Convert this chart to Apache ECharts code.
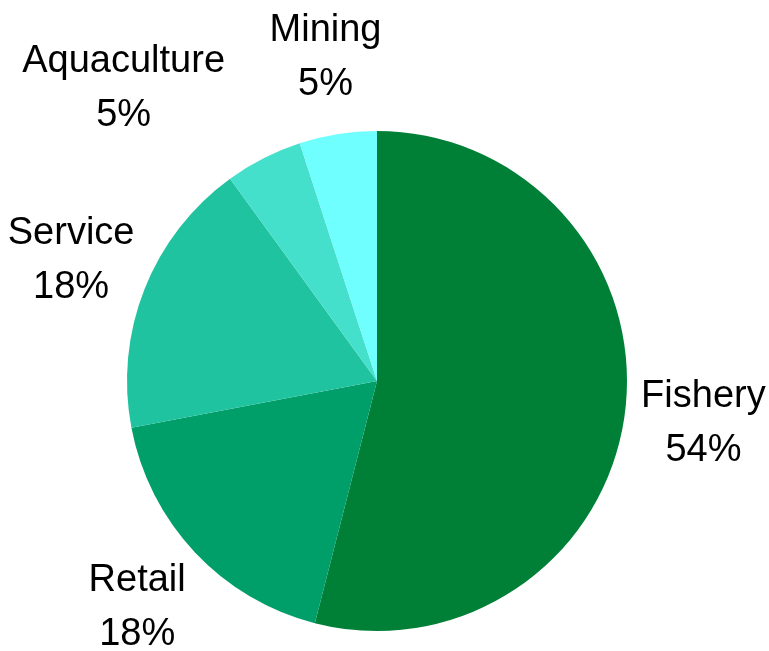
<!DOCTYPE html>
<html>
<head>
<meta charset="utf-8">
<script src="https://cdn.jsdelivr.net/npm/echarts@6/dist/echarts.min.js"></script>
<style>
  html, body { margin: 0; padding: 0; background: #fff; }
  #chart { width: 769px; height: 651px; }
</style>
</head>
<body>
<div id="chart"></div>
<script>
const categories = ['Fishery', 'Retail', 'Service', 'Aquaculture', 'Mining'];
const values = [54, 18, 18, 5, 5];
const colors = ['#008037', '#009e69', '#20c39f', '#45e0cc', '#6ffffe'];

// pie geometry
const cx = 377, cy = 381, radius = 250;
const labelR = 329;

const total = values.reduce((a, b) => a + b, 0);

function labelPos(idx) {
  let before = 0;
  for (let i = 0; i < idx; i++) before += values[i];
  const mid = (before + values[idx] / 2) / total * Math.PI * 2;
  let x = cx + labelR * Math.sin(mid);
  const y = cy - labelR * Math.cos(mid) + 1;
  // the small Aquaculture label is pushed left so it clears Mining
  if (categories[idx] === 'Aquaculture') x -= 104;
  return { x: x, y: y };
}

const chart = echarts.init(document.getElementById('chart'));
chart.setOption({
  animation: false,
  series: [{
    type: 'pie',
    center: [cx, cy],
    radius: radius,
    startAngle: 90,
    clockwise: true,
    percentPrecision: 0,
    avoidLabelOverlap: false,
    data: categories.map((name, i) => ({
      name: name,
      value: values[i],
      itemStyle: { color: colors[i] }
    })),
    label: {
      show: true,
      position: 'outside',
      formatter: '{b}\n{d}%',
      fontFamily: 'Liberation Sans',
      fontSize: 38,
      lineHeight: 54,
      color: '#000',
      align: 'center',
      overflow: 'none',
      edgeDistance: 0
    },
    labelLine: { show: false },
    labelLayout: function (params) {
      const p = labelPos(params.dataIndex);
      return { x: p.x, y: p.y, align: 'center', verticalAlign: 'middle' };
    },
    emphasis: { disabled: true }
  }]
});
</script>
</body>
</html>
